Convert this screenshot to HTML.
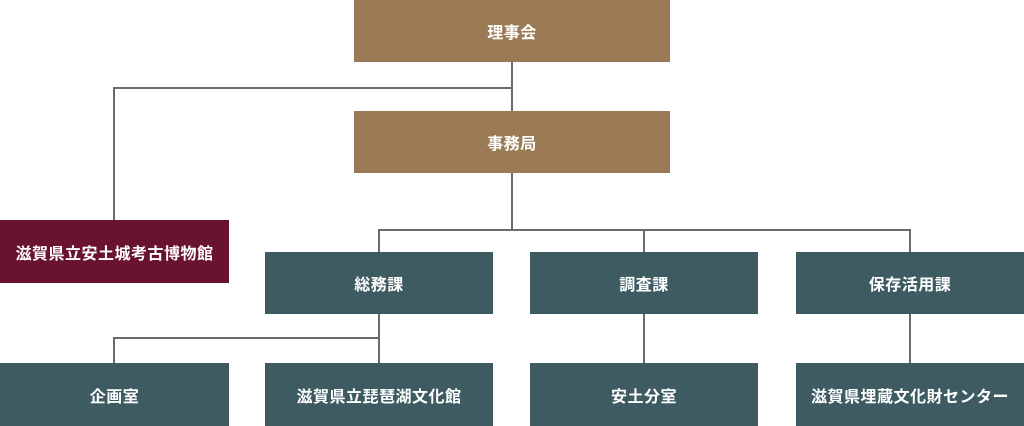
<!DOCTYPE html>
<html><head><meta charset="utf-8"><style>
body{margin:0;width:1024px;height:426px;background:#fff;position:relative;overflow:hidden;font-family:"Liberation Sans","Noto Sans CJK JP",sans-serif}
.b{position:absolute;color:#fff;font-size:16px;font-weight:bold;display:flex;align-items:center;justify-content:center;letter-spacing:0.5px}
.br{background:#9a7b56}.rd{background:#6a1330}.tl{background:#3f5b62}
.l{position:absolute;background:#6a6a6a}
</style></head><body>
<div class="l" style="left:511px;top:62px;width:2px;height:49px"></div>
<div class="l" style="left:113px;top:87px;width:400px;height:2px"></div>
<div class="l" style="left:113px;top:87px;width:2px;height:133px"></div>
<div class="l" style="left:511px;top:173px;width:2px;height:57px"></div>
<div class="l" style="left:378px;top:229px;width:533px;height:2px"></div>
<div class="l" style="left:378px;top:229px;width:2px;height:23px"></div>
<div class="l" style="left:643px;top:229px;width:2px;height:23px"></div>
<div class="l" style="left:909px;top:229px;width:2px;height:23px"></div>
<div class="l" style="left:378px;top:314px;width:2px;height:49px"></div>
<div class="l" style="left:113px;top:337px;width:267px;height:2px"></div>
<div class="l" style="left:113px;top:337px;width:2px;height:26px"></div>
<div class="l" style="left:643px;top:314px;width:2px;height:49px"></div>
<div class="l" style="left:909px;top:314px;width:2px;height:49px"></div>
<div class="b br" style="left:354px;top:0;width:316px;height:62px">理事会</div>
<div class="b br" style="left:354px;top:111px;width:316px;height:62px">事務局</div>
<div class="b rd" style="left:0;top:220px;width:229px;height:63px">滋賀県立安土城考古博物館</div>
<div class="b tl" style="left:265px;top:252px;width:228px;height:62px">総務課</div>
<div class="b tl" style="left:530px;top:252px;width:228px;height:62px">調査課</div>
<div class="b tl" style="left:796px;top:252px;width:228px;height:62px">保存活用課</div>
<div class="b tl" style="left:0;top:363px;width:229px;height:63px">企画室</div>
<div class="b tl" style="left:265px;top:363px;width:228px;height:63px">滋賀県立琵琶湖文化館</div>
<div class="b tl" style="left:530px;top:363px;width:228px;height:63px">安土分室</div>
<div class="b tl" style="left:796px;top:363px;width:228px;height:63px">滋賀県埋蔵文化財センター</div>
</body></html>
